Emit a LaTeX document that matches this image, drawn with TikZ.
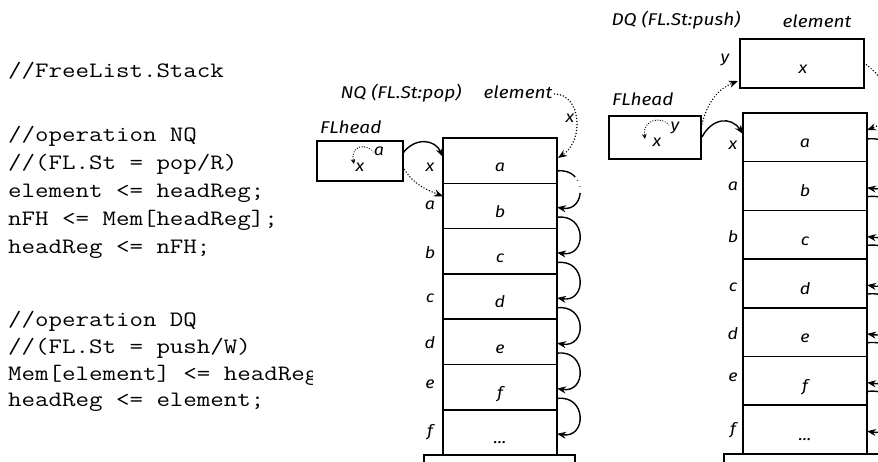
\documentclass[tikz,border=0pt]{standalone}
\usepackage{fontspec}
\usepackage{graphicx}
\newfontfamily\hand{Fira Sans}[FakeStretch=1.12]
\usetikzlibrary{arrows.meta,calc}
\newcommand{\cdl}[1]{\scalebox{1.19}[1]{#1}}
\begin{document}
\begin{tikzpicture}[x=1pt,y=-1pt,
  code/.style={anchor=west,inner sep=0pt,text height=16.5pt,text depth=5.5pt,
    font=\ttfamily\fontsize{22}{27}\selectfont},
  hw/.style={inner sep=0pt,text height=8pt,text depth=0pt,
    font=\hand\itshape\fontsize{17}{20}\selectfont},
  hws/.style={inner sep=0pt,text height=8pt,text depth=0pt,
    font=\hand\itshape\fontsize{16}{20}\selectfont},
  cell/.style={draw,line width=1.5pt,inner sep=0pt,outer sep=0pt,anchor=north west},
  solidarr/.style={line width=1.4pt,-{Stealth[length=9pt,width=7pt]}},
  dotarr/.style={line width=1.6pt,line cap=round,dash pattern=on 0.01pt off 3pt,
    -{Stealth[length=9pt,width=7pt]}},
  smalldot/.style={line width=1.3pt,line cap=round,dash pattern=on 0.01pt off 2.5pt,
    -{Stealth[length=5pt,width=4.5pt]}}
]
\useasboundingbox (0,0) rectangle (878,462);
\clip (0,0) rectangle (878,462);

% ---------------- code text ----------------
\node[code] (c1) at (8,72) {\cdl{//FreeList.Stack}};
\node[code] (c2) at (8,136) {\cdl{//operation NQ}};
\node[code] (c3) at (8,164) {\cdl{//(FL.St = pop/R)}};
\node[code] (c4) at (8,192) {\cdl{element <= headReg;}};
\node[code] (c5) at (8,220) {\cdl{nFH <= Mem[headReg];}};
\node[code] (c6) at (8,248) {\cdl{headReg <= nFH;}};
\node[code] (c7) at (8,321) {\cdl{//operation DQ}};
\node[code] (c8) at (8,348) {\cdl{//(FL.St = push/W)}};
\begin{scope}
  \clip (0,357) rectangle (312,397);
  \node[code] (c9) at (8,375) {\cdl{Mem[element] <= headReg;}};
\end{scope}
\node[code] (c10) at (8,401) {\cdl{headReg <= element;}};

% ---------------- NQ ----------------
\node[hw] (nqtitle) at (401,95) {NQ (FL.St:pop)};
\node[hw] (nqelemtxt) at (518,95) {element};
\node[hw,anchor=west] (nqflh) at (320,130) {FLhead};
\node[cell,minimum width=86pt,minimum height=40pt] (nqhead) at (317,141) {};
\node[hws] (nqha) at (379,152) {a};
\node[hws] (nqhx) at (360,168) {x};
\draw[smalldot] (373,152) .. controls (367,143) and (350,145) .. (354,164);

\foreach \i/\t in {1/a,2/b,3/c,4/d,5/e,6/f,7/{...}} {
  \node[cell,minimum width=114pt,minimum height=45.3pt] (nqr\i) at (443,{138+45.3*(\i-1)}) {};
  \node[hws] (nqt\i) at (500,{168+45.3*(\i-1)}) {\t};
}
\draw[line width=1.5pt] (424,475) -- (424,455.1) -- (575,455.1) -- (575,475);

\foreach \t/\y in {x/168,a/206,b/255,c/298,d/344,e/384,f/432} {
  \node[hws] (nql\t) at (430,\y) {\t};
}

\draw[solidarr] ($(nqhead.north east)+(0,12)$) .. controls +(12,-16) and +(-8,-18) .. ($(nqr1.north west)+(0,19)$);
\draw[dotarr] ($(nqhead.north east)+(0,26)$) .. controls +(10,18) and +(-15,-6) .. ($(nqr2.north west)+(0,13)$);
\draw[dotarr] ($(nqelemtxt.east)+(2,-1)$) .. controls +(26,0) and +(27,-18) .. ($(nqr1.north east)+(1,20)$);
\node[hws] (nqex) at (570,119) {x};

\draw[line width=1.4pt,dash pattern=on 20pt off 4pt on 0.5pt off 6pt on 0.5pt off 6pt on 40pt,
  -{Stealth[length=9pt,width=7pt]}]
  ($(nqr1.north east)+(0,33)$) .. controls +(30,-4) and +(30,5) .. ($(nqr2.north east)+(0,24)$);
\foreach \i/\j in {2/3,3/4,4/5,5/6,6/7} {
  \draw[solidarr] ($(nqr\i.north east)+(0,34)$) .. controls +(30,-4) and +(30,5) .. ($(nqr\j.north east)+(0,24)$);
}

% ---------------- DQ ----------------
\node[hw] (dqtitle) at (676,22) {DQ (FL.St:push)};
\node[hw] (dqelemtxt) at (817,24) {element};
\node[cell,minimum width=124pt,minimum height=49pt] (dqelem) at (740,39) {};
\node[hws] (dqex) at (803,70) {x};
\node[hws] (dqy) at (725,59) {y};
\node[hw,anchor=west] (dqflh) at (612,102) {FLhead};
\node[cell,minimum width=92pt,minimum height=43pt] (dqhead) at (609,116) {};
\node[hws] (dqhy) at (675,127) {y};
\node[hws] (dqhx) at (657,143) {x};
\draw[smalldot] (669,125) .. controls (662,116) and (642,119) .. (645,139);

\foreach \i/\t in {1/a,2/b,3/c,4/d,5/e,6/f,7/{...}} {
  \node[cell,minimum width=124pt,minimum height=48.7pt] (dqr\i) at (743,{113+48.7*(\i-1)}) {};
  \node[hws] (dqt\i) at (805,{144+48.7*(\i-1)}) {\t};
}
\draw[line width=1.5pt] (724,475) -- (724,453.9) -- (900,453.9);

\foreach \t/\y in {x/146,a/187,b/239,c/287,d/335,e/377,f/430} {
  \node[hws] (dql\t) at (733,\y) {\t};
}

\draw[dotarr] ($(dqhead.north east)+(1,8)$) .. controls +(6,-24) and +(-18,7) .. ($(dqelem.south west)+(-2,-7)$);
\draw[solidarr] ($(dqhead.north east)+(1,21)$) .. controls +(10,-19) and +(-12,-18) .. ($(dqr1.north west)+(0,21)$);
\draw[dotarr] ($(dqelem.north east)+(0,24)$) .. controls +(31,22) and +(33,-12) .. ($(dqr1.north east)+(0,17)$);

\draw[solidarr] ($(dqr1.north east)+(0,26)$) .. controls +(40,-5) and +(40,6) .. ($(dqr2.north east)+(0,26)$);
\foreach \i/\j in {2/3,3/4,4/5,5/6,6/7} {
  \draw[solidarr] ($(dqr\i.north east)+(0,35)$) .. controls +(40,-5) and +(40,6) .. ($(dqr\j.north east)+(0,26)$);
}
\end{tikzpicture}
\end{document}
